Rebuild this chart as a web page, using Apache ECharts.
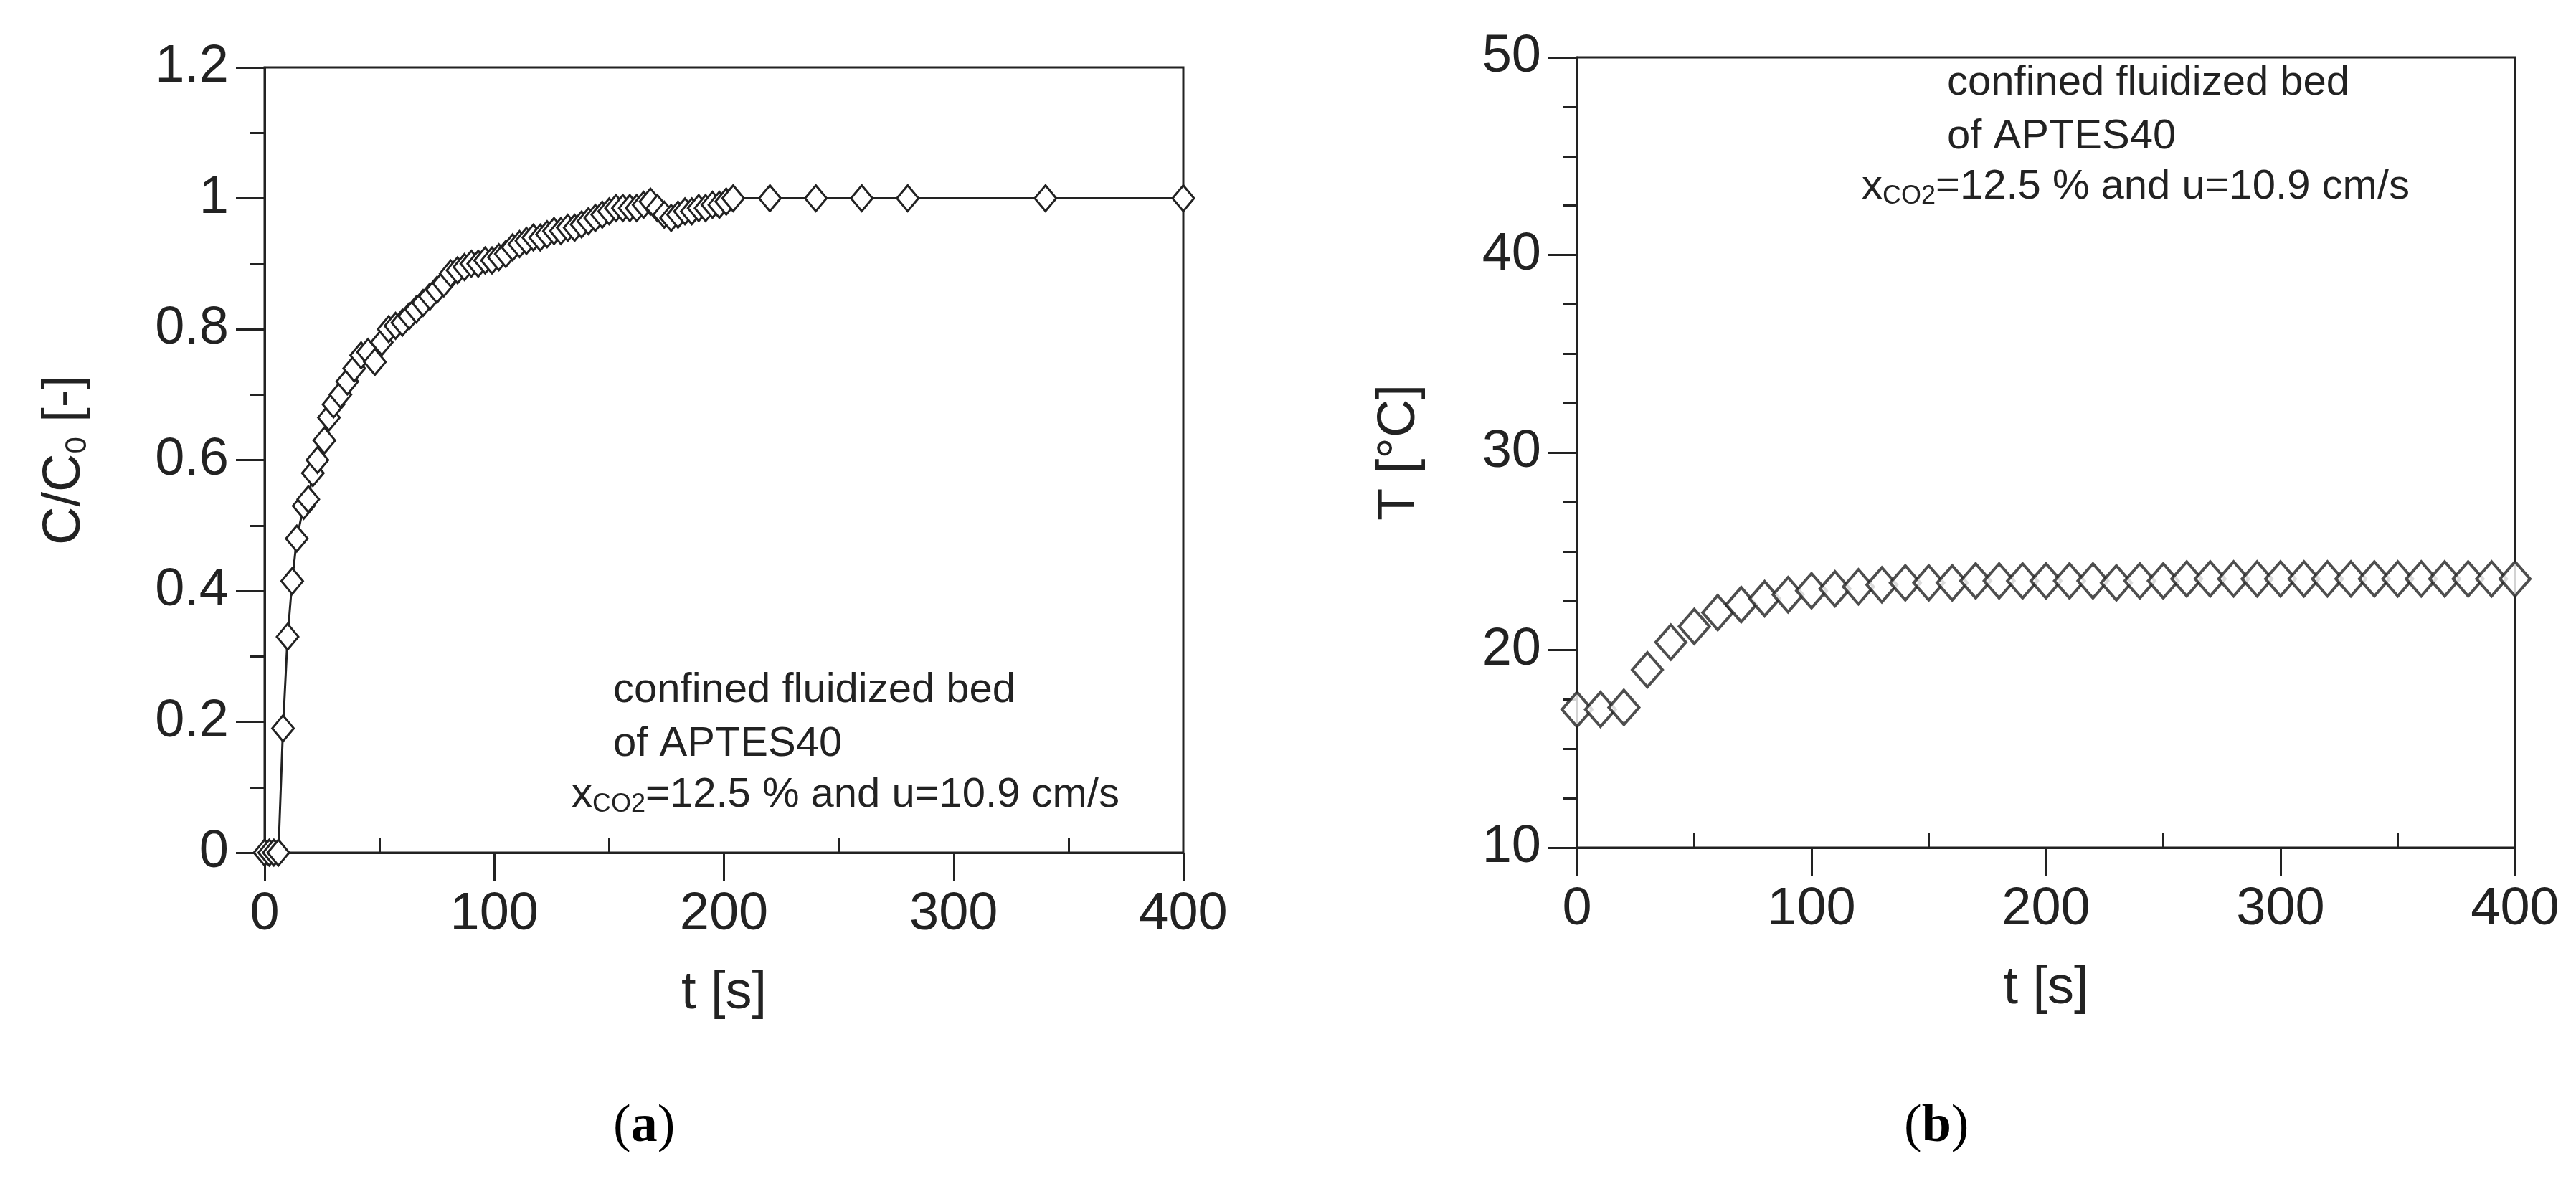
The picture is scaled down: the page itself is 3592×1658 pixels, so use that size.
<!DOCTYPE html>
<html>
<head>
<meta charset="utf-8">
<script src="https://cdn.jsdelivr.net/npm/echarts@6/dist/echarts.min.js"></script>
<style>
  html, body { margin: 0; padding: 0; background: #fff; }
  #main { width: 3592px; height: 1658px; }
</style>
</head>
<body>
<div id="main"></div>
<script>
// (a) C/C0 breakthrough
var tA = [0, 2, 4, 6, 8, 10, 12, 14, 17, 19, 21, 23, 26, 28, 30, 33, 36, 39, 42, 45, 48, 51, 54, 57, 60, 63, 66, 69, 72, 75, 78, 81, 84, 87, 90, 93, 96, 99, 102, 105, 108, 111, 114, 117, 120, 123, 126, 129, 132, 135, 138, 141, 144, 147, 150, 153, 156, 159, 162, 165, 168, 171, 174, 177, 180, 183, 186, 189, 192, 195, 198, 201, 204, 220, 240, 260, 280, 340, 400];
var cA = [0, 0, 0, 0, 0.19, 0.33, 0.415, 0.48, 0.53, 0.54, 0.58, 0.6, 0.63, 0.665, 0.685, 0.7, 0.72, 0.74, 0.76, 0.765, 0.75, 0.78, 0.8, 0.805, 0.81, 0.82, 0.83, 0.84, 0.85, 0.86, 0.87, 0.885, 0.89, 0.895, 0.9, 0.9, 0.905, 0.905, 0.91, 0.915, 0.925, 0.93, 0.935, 0.94, 0.94, 0.945, 0.95, 0.95, 0.955, 0.955, 0.96, 0.965, 0.97, 0.975, 0.98, 0.985, 0.985, 0.985, 0.985, 0.99, 0.995, 0.985, 0.975, 0.97, 0.975, 0.98, 0.98, 0.985, 0.985, 0.99, 0.99, 0.995, 1.0, 1, 1, 1, 1, 1, 1];
// (b) temperature
var tB = [0, 10, 20, 30, 40, 50, 60, 70, 80, 90, 100, 110, 120, 130, 140, 150, 160, 170, 180, 190, 200, 210, 220, 230, 240, 250, 260, 270, 280, 290, 300, 310, 320, 330, 340, 350, 360, 370, 380, 390, 400];
var TB = [17, 17, 17.1, 19, 20.4, 21.2, 21.9, 22.3, 22.6, 22.8, 23, 23.1, 23.2, 23.3, 23.4, 23.4, 23.4, 23.5, 23.5, 23.5, 23.5, 23.5, 23.5, 23.4, 23.5, 23.5, 23.6, 23.6, 23.6, 23.6, 23.6, 23.6, 23.6, 23.6, 23.6, 23.6, 23.6, 23.6, 23.6, 23.6, 23.6];

var font = 'Liberation Sans';
var ink = '#222';

function pairs(xs, ys) {
  var out = [];
  for (var i = 0; i < xs.length; i++) out.push([xs[i], ys[i]]);
  return out;
}

function xAxisOf(idx) {
  return {
    type: 'value', gridIndex: idx, min: 0, max: 400, interval: 100,
    axisLine: { lineStyle: { color: ink, width: 3 } },
    axisTick: { inside: false, length: 40, lineStyle: { color: ink, width: 3 } },
    minorTick: { show: true, splitNumber: 2, length: -20, lineStyle: { color: ink, width: 3 } },
    splitLine: { show: false },
    axisLabel: { fontFamily: font, fontSize: 74, color: ink, margin: 50 },
    name: 't [s]', nameLocation: 'middle', nameGap: 160,
    nameTextStyle: { fontFamily: font, fontSize: 74, color: ink }
  };
}

var option = {
  animation: false,
  backgroundColor: '#fff',
  grid: [
    { left: 369, top: 94, width: 1281, height: 1095, show: true, borderColor: ink, borderWidth: 3 },
    { left: 2199, top: 80, width: 1308, height: 1102, show: true, borderColor: ink, borderWidth: 3 }
  ],
  xAxis: [xAxisOf(0), xAxisOf(1)],
  yAxis: [
    {
      type: 'value', gridIndex: 0, min: 0, max: 1.2, interval: 0.2,
      axisLine: { lineStyle: { color: ink, width: 3 } },
      axisTick: { length: 40, lineStyle: { color: ink, width: 3 } },
      minorTick: { show: true, splitNumber: 2, length: 20, lineStyle: { color: ink, width: 3 } },
      splitLine: { show: false },
      axisLabel: { fontFamily: font, fontSize: 74, color: ink, margin: 50, formatter: function (v) { return +v.toFixed(1) + ''; } },
      name: '{n|C/C}{s|0}{n| [-]}', nameLocation: 'middle', nameGap: 240, nameRotate: 90,
      nameTextStyle: { rich: { n: { fontFamily: font, fontSize: 74, color: ink }, s: { fontFamily: font, fontSize: 42, color: ink, padding: [34, 0, 0, 0] } } }
    },
    {
      type: 'value', gridIndex: 1, min: 10, max: 50, interval: 10,
      axisLine: { lineStyle: { color: ink, width: 3 } },
      axisTick: { length: 40, lineStyle: { color: ink, width: 3 } },
      minorTick: { show: true, splitNumber: 4, length: 20, lineStyle: { color: ink, width: 3 } },
      splitLine: { show: false },
      axisLabel: { fontFamily: font, fontSize: 74, color: ink, margin: 50 },
      name: 'T [°C]', nameLocation: 'middle', nameGap: 210, nameRotate: 90,
      nameTextStyle: { fontFamily: font, fontSize: 74, color: ink }
    }
  ],
  series: [
    {
      type: 'line', xAxisIndex: 0, yAxisIndex: 0, data: pairs(tA, cA),
      symbol: 'diamond', symbolSize: [30, 36],
      itemStyle: { color: '#fff', borderColor: ink, borderWidth: 3 },
      lineStyle: { color: ink, width: 3 }
    },
    {
      type: 'scatter', xAxisIndex: 1, yAxisIndex: 1, data: pairs(tB, TB),
      symbol: 'diamond', symbolSize: [42, 48],
      itemStyle: { color: '#fff', borderColor: ink, borderWidth: 4 }
    }
  ],
  graphic: [
    { type: 'text', left: 855, top: 925, style: { text: 'confined fluidized bed\nof APTES40', font: '58px "Liberation Sans"', fill: ink, lineHeight: 75 } },
    { type: 'text', left: 797, top: 1080, style: { text: '{n|x}{s|CO2}{n|=12.5 % and u=10.9 cm/s}', rich: { n: { fontFamily: font, fontSize: 58, fill: ink }, s: { fontFamily: font, fontSize: 36, fill: ink, padding: [26, 0, 0, 0] } } } },
    { type: 'text', left: 2715, top: 78, style: { text: 'confined fluidized bed\nof APTES40', font: '58px "Liberation Sans"', fill: ink, lineHeight: 75 } },
    { type: 'text', left: 2596, top: 232, style: { text: '{n|x}{s|CO2}{n|=12.5 % and u=10.9 cm/s}', rich: { n: { fontFamily: font, fontSize: 58, fill: ink }, s: { fontFamily: font, fontSize: 36, fill: ink, padding: [26, 0, 0, 0] } } } },
    { type: 'text', left: 855, top: 1535, style: { text: '({b|a})', rich: { b: { fontFamily: 'Liberation Serif', fontSize: 74, fontWeight: 'bold', fill: '#000' } }, font: '74px "Liberation Serif"', fill: '#000' } },
    { type: 'text', left: 2655, top: 1535, style: { text: '({b|b})', rich: { b: { fontFamily: 'Liberation Serif', fontSize: 74, fontWeight: 'bold', fill: '#000' } }, font: '74px "Liberation Serif"', fill: '#000' } }
  ]
};

echarts.init(document.getElementById('main')).setOption(option);
</script>
</body>
</html>
